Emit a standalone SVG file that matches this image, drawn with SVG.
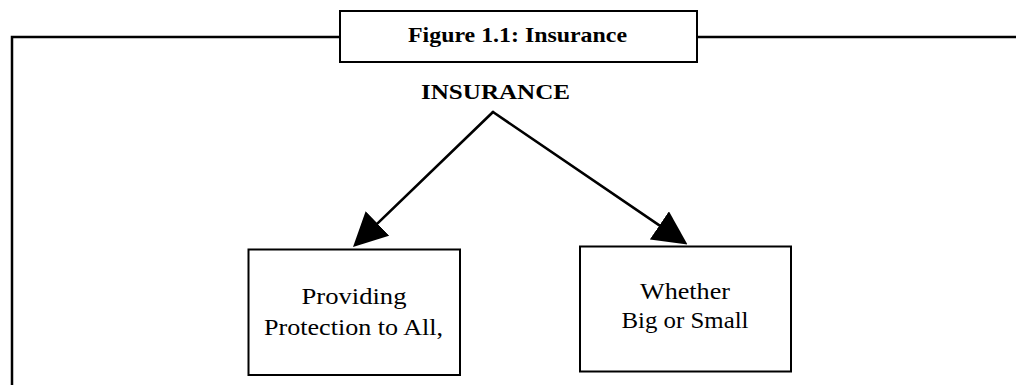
<svg xmlns="http://www.w3.org/2000/svg" width="1016" height="385" viewBox="0 0 1016 385">
  <style>
    .frame { fill: none; stroke: #000; stroke-width: 2.5; }
    .box { fill: #fff; stroke: #000; stroke-width: 2; }
    .conn { fill: none; stroke: #000; stroke-width: 2.6; stroke-linecap: round; }
    .bold { font-family: "Liberation Serif", "Times New Roman", serif; font-weight: bold; fill: #000; }
    .label { font-family: "Liberation Serif", "Times New Roman", serif; font-size: 24px; fill: #000; text-anchor: middle; }
  </style>
  <defs>
    <marker id="arrow" viewBox="0 0 34 34" refX="24" refY="17" markerWidth="34" markerHeight="34" markerUnits="userSpaceOnUse" orient="auto">
      <path d="M0,0 L34,17 L0,34 z" fill="#000"/>
    </marker>
  </defs>
  <rect x="0" y="0" width="1016" height="385" fill="#fff"/>

  <g id="frame">
    <path class="frame" d="M12,385 L12,37 L340,37 M697,37 L1016,37"/>
  </g>

  <g id="title">
    <rect class="box" x="340" y="11" width="357" height="51"/>
    <text class="bold" x="408" y="42" font-size="21" textLength="219" lengthAdjust="spacingAndGlyphs">Figure 1.1: Insurance</text>
  </g>

  <g id="insurance">
    <text class="bold" x="421" y="99" font-size="22" textLength="149" lengthAdjust="spacingAndGlyphs">INSURANCE</text>
  </g>

  <g id="connectors">
    <path class="conn" d="M493,112 L360.2,240.1" marker-end="url(#arrow)"/>
    <path class="conn" d="M493,112 L679.2,238.9" marker-end="url(#arrow)"/>
  </g>

  <g id="providing">
    <rect class="box" x="248.5" y="249.5" width="211.5" height="125.5"/>
    <text class="label" x="354" y="304" textLength="105" lengthAdjust="spacingAndGlyphs">Providing</text>
    <text class="label" x="353.5" y="335" textLength="179" lengthAdjust="spacingAndGlyphs">Protection to All,</text>
  </g>

  <g id="whether">
    <rect class="box" x="580" y="246.5" width="211" height="125"/>
    <text class="label" x="685" y="299" textLength="90" lengthAdjust="spacingAndGlyphs">Whether</text>
    <text class="label" x="685" y="328" textLength="127" lengthAdjust="spacingAndGlyphs">Big or Small</text>
  </g>
</svg>
